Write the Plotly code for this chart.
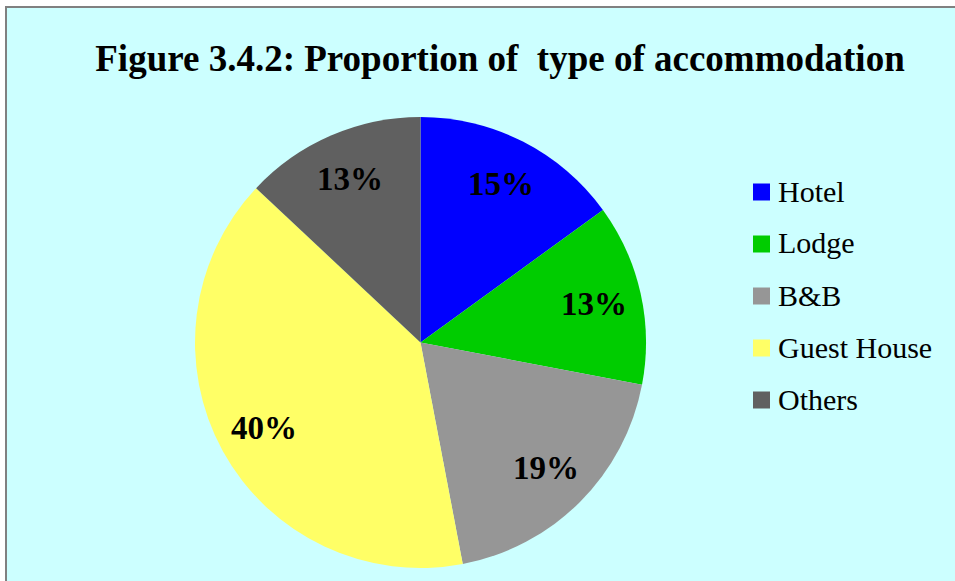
import math
import plotly.graph_objects as go

labels = ["Hotel", "Lodge", "B&B", "Guest House", "Others"]
values = [15, 13, 19, 40, 13]
colors = ["#0000FF", "#00CC00", "#969696", "#FFFF66", "#606060"]
title_text = "Figure 3.4.2: Proportion of\u00a0 type of accommodation"

W, H = 955, 581
FONT = "Liberation Serif"


def X(px):
    return px / W


def Y(py):
    return 1 - py / H


# pie geometry (reference pixels)
cx, cy, R = 420.5, 342.5, 225.5
dom_x = [X(cx - R), X(cx + R)]
dom_y = [Y(cy + R), Y(cy - R)]

fig = go.Figure()
fig.add_trace(go.Pie(
    labels=labels, values=values, sort=False, direction="clockwise", rotation=0,
    marker=dict(colors=colors, line=dict(width=0)),
    textinfo="none", hoverinfo="label+percent",
    domain=dict(x=dom_x, y=dom_y), showlegend=False,
))

total = sum(values)
cum = 0
annotations = []
shapes = [dict(type="rect", xref="paper", yref="paper",
               x0=X(6), x1=1.2, y0=-0.2, y1=Y(7),
               fillcolor="#CCFFFF", line=dict(color="#808080", width=2),
               layer="below")]
for i, (lab, v, col) in enumerate(zip(labels, values, colors)):
    mid = (cum + v / 2) / total * 2 * math.pi
    cum += v
    r = 0.79 * R
    px = cx + r * math.sin(mid)
    py = cy - r * math.cos(mid)
    annotations.append(dict(
        x=X(px), y=Y(py), xref="paper", yref="paper",
        text=f"<b>{round(v / total * 100)}%</b>", showarrow=False,
        font=dict(family=FONT, size=33, color="black"),
        xanchor="center", yanchor="middle",
    ))
    # legend entry
    ly = 192 + 52 * i
    shapes.append(dict(type="rect", xref="paper", yref="paper",
                       x0=X(753), x1=X(770), y0=Y(ly + 8.5), y1=Y(ly - 8.5),
                       fillcolor=col, line=dict(width=0)))
    annotations.append(dict(
        x=X(776), y=Y(ly - 1), xref="paper", yref="paper", text=lab,
        showarrow=False, xanchor="left", yanchor="middle",
        font=dict(family=FONT, size=30, color="black"),
    ))

fig.update_layout(
    width=W, height=H,
    margin=dict(l=0, r=0, t=0, b=0),
    paper_bgcolor="white",
    plot_bgcolor="white",
    title=dict(text=f"<b>{title_text}</b>", x=X(500), y=Y(58),
               xanchor="center", yanchor="middle", xref="paper", yref="paper",
               font=dict(family=FONT, size=37, color="black")),
    shapes=shapes,
    annotations=annotations,
    showlegend=False,
)

fig.write_html(
    "out.html",
    config={"displayModeBar": False},
    post_script="document.body.style.margin='0';document.body.style.overflow='hidden';",
)
